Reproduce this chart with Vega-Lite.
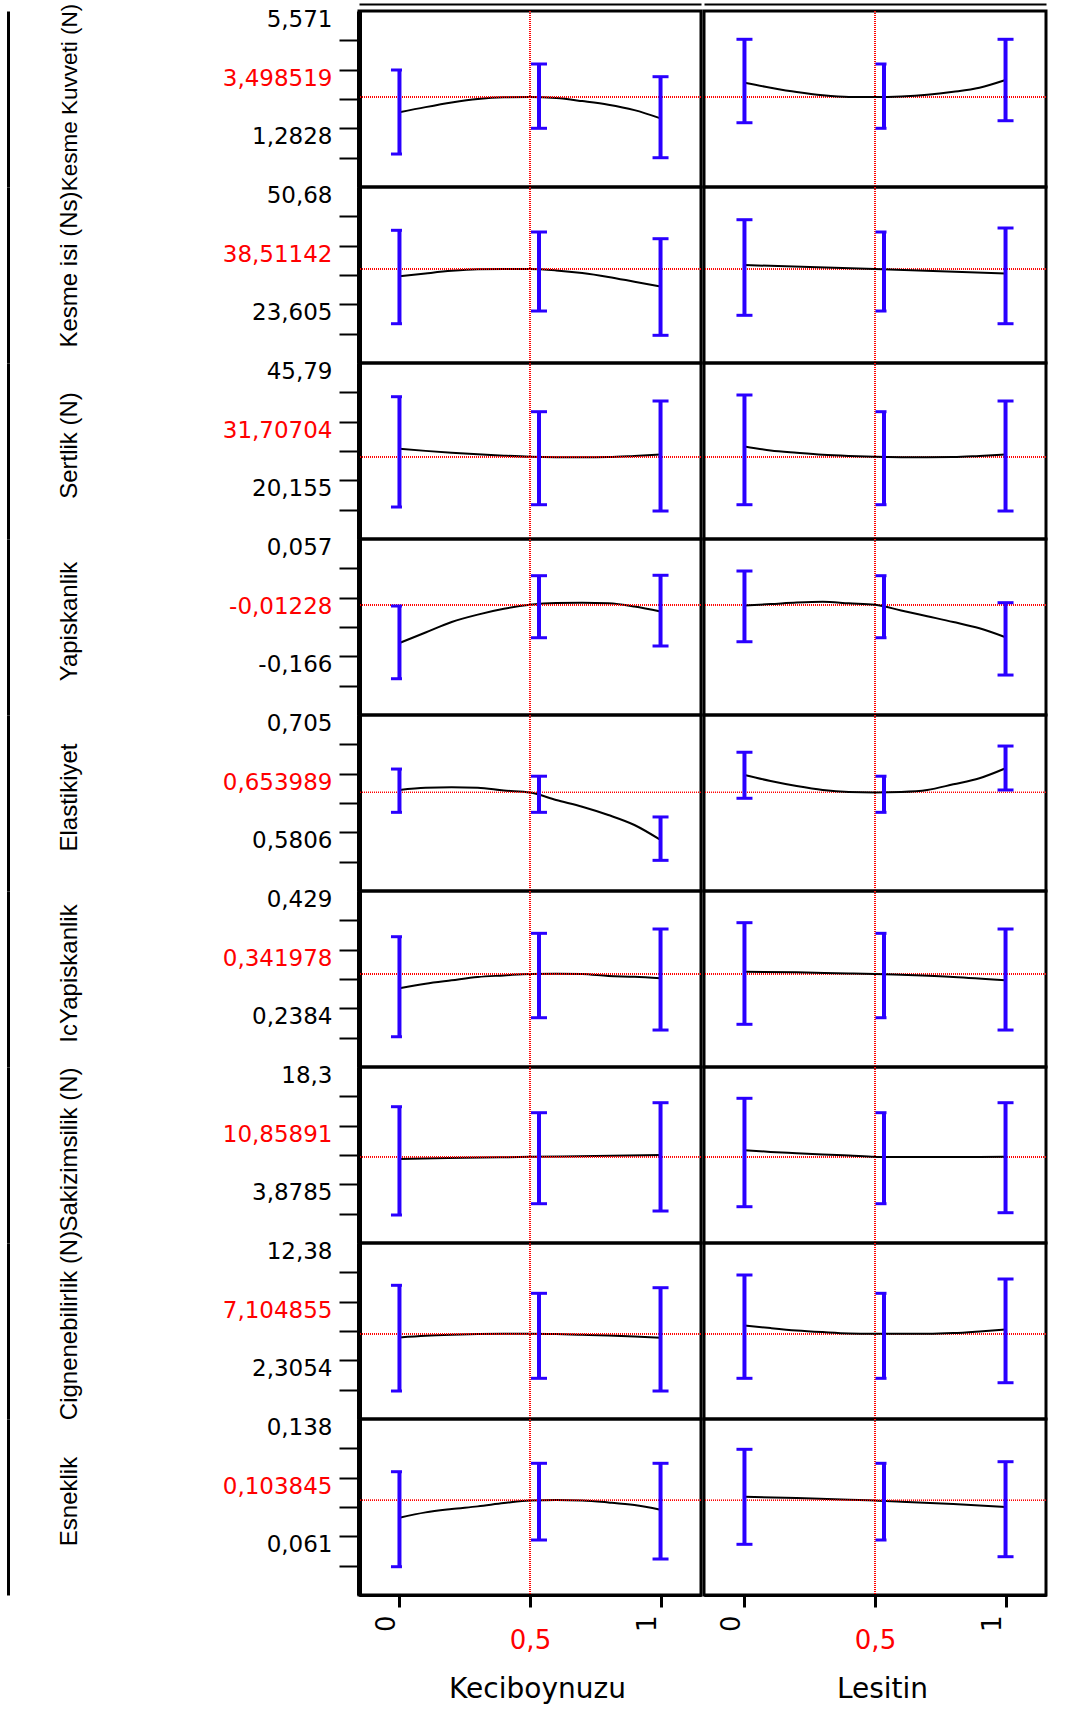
{
"$schema":"https://vega.github.io/schema/vega-lite/v6.json",
"padding":{"left":6,"top":1,"right":0,"bottom":0},
"background":"#ffffff",
"datasets":{"d":[
{"r":"r1","f":"K","k":"c","x":0,"y":2.94},{"r":"r1","f":"K","k":"c","x":0.1,"y":3.13},{"r":"r1","f":"K","k":"c","x":0.2,"y":3.3},{"r":"r1","f":"K","k":"c","x":0.3,"y":3.43},{"r":"r1","f":"K","k":"c","x":0.4,"y":3.49},{"r":"r1","f":"K","k":"c","x":0.5,"y":3.4985},{"r":"r1","f":"K","k":"c","x":0.6,"y":3.46},{"r":"r1","f":"K","k":"c","x":0.7,"y":3.35},{"r":"r1","f":"K","k":"c","x":0.8,"y":3.22},{"r":"r1","f":"K","k":"c","x":0.9,"y":3.02},{"r":"r1","f":"K","k":"c","x":1,"y":2.72},
{"r":"r1","f":"K","k":"b","x":0,"lo":1.416,"hi":4.487},{"r":"r1","f":"K","k":"b","x":0.5,"lo":2.356,"hi":4.706},{"r":"r1","f":"K","k":"b","x":1,"lo":1.281,"hi":4.242},
{"r":"r1","f":"L","k":"c","x":0,"y":4.02},{"r":"r1","f":"L","k":"c","x":0.1,"y":3.84},{"r":"r1","f":"L","k":"c","x":0.2,"y":3.68},{"r":"r1","f":"L","k":"c","x":0.3,"y":3.56},{"r":"r1","f":"L","k":"c","x":0.4,"y":3.5},{"r":"r1","f":"L","k":"c","x":0.5,"y":3.4985},{"r":"r1","f":"L","k":"c","x":0.6,"y":3.52},{"r":"r1","f":"L","k":"c","x":0.7,"y":3.58},{"r":"r1","f":"L","k":"c","x":0.8,"y":3.69},{"r":"r1","f":"L","k":"c","x":0.9,"y":3.84},{"r":"r1","f":"L","k":"c","x":1,"y":4.12},
{"r":"r1","f":"L","k":"b","x":0,"lo":2.56,"hi":5.609},{"r":"r1","f":"L","k":"b","x":0.5,"lo":2.356,"hi":4.706},{"r":"r1","f":"L","k":"b","x":1,"lo":2.633,"hi":5.609},
{"r":"r2","f":"K","k":"c","x":0,"y":36.83},{"r":"r2","f":"K","k":"c","x":0.1,"y":37.5},{"r":"r2","f":"K","k":"c","x":0.2,"y":38.1},{"r":"r2","f":"K","k":"c","x":0.3,"y":38.45},{"r":"r2","f":"K","k":"c","x":0.4,"y":38.51},{"r":"r2","f":"K","k":"c","x":0.5,"y":38.51},{"r":"r2","f":"K","k":"c","x":0.6,"y":38.2},{"r":"r2","f":"K","k":"c","x":0.7,"y":37.6},{"r":"r2","f":"K","k":"c","x":0.8,"y":36.7},{"r":"r2","f":"K","k":"c","x":0.9,"y":35.6},{"r":"r2","f":"K","k":"c","x":1,"y":34.5},
{"r":"r2","f":"K","k":"b","x":0,"lo":25.901,"hi":47.456},{"r":"r2","f":"K","k":"b","x":0.5,"lo":28.832,"hi":47.064},{"r":"r2","f":"K","k":"b","x":1,"lo":23.224,"hi":45.518},
{"r":"r2","f":"L","k":"c","x":0,"y":39.43},{"r":"r2","f":"L","k":"c","x":0.25,"y":39.0},{"r":"r2","f":"L","k":"c","x":0.5,"y":38.51},{"r":"r2","f":"L","k":"c","x":0.75,"y":38.0},{"r":"r2","f":"L","k":"c","x":1,"y":37.5},
{"r":"r2","f":"L","k":"b","x":0,"lo":27.84,"hi":49.902},{"r":"r2","f":"L","k":"b","x":0.5,"lo":28.832,"hi":47.064},{"r":"r2","f":"L","k":"b","x":1,"lo":25.901,"hi":47.987},
{"r":"r3","f":"K","k":"c","x":0,"y":33.45},{"r":"r3","f":"K","k":"c","x":0.1,"y":33.0},{"r":"r3","f":"K","k":"c","x":0.2,"y":32.6},{"r":"r3","f":"K","k":"c","x":0.3,"y":32.25},{"r":"r3","f":"K","k":"c","x":0.4,"y":31.95},{"r":"r3","f":"K","k":"c","x":0.5,"y":31.707},{"r":"r3","f":"K","k":"c","x":0.6,"y":31.6},{"r":"r3","f":"K","k":"c","x":0.7,"y":31.58},{"r":"r3","f":"K","k":"c","x":0.8,"y":31.65},{"r":"r3","f":"K","k":"c","x":0.9,"y":31.9},{"r":"r3","f":"K","k":"c","x":1,"y":32.2},
{"r":"r3","f":"K","k":"b","x":0,"lo":20.735,"hi":44.835},{"r":"r3","f":"K","k":"b","x":0.5,"lo":21.238,"hi":41.558},{"r":"r3","f":"K","k":"b","x":1,"lo":19.861,"hi":43.896},
{"r":"r3","f":"L","k":"c","x":0,"y":33.96},{"r":"r3","f":"L","k":"c","x":0.1,"y":33.09},{"r":"r3","f":"L","k":"c","x":0.2,"y":32.58},{"r":"r3","f":"L","k":"c","x":0.3,"y":32.14},{"r":"r3","f":"L","k":"c","x":0.4,"y":31.88},{"r":"r3","f":"L","k":"c","x":0.5,"y":31.707},{"r":"r3","f":"L","k":"c","x":0.6,"y":31.62},{"r":"r3","f":"L","k":"c","x":0.7,"y":31.6},{"r":"r3","f":"L","k":"c","x":0.8,"y":31.65},{"r":"r3","f":"L","k":"c","x":0.9,"y":31.9},{"r":"r3","f":"L","k":"c","x":1,"y":32.2},
{"r":"r3","f":"L","k":"b","x":0,"lo":21.238,"hi":45.207},{"r":"r3","f":"L","k":"b","x":0.5,"lo":21.238,"hi":41.558},{"r":"r3","f":"L","k":"b","x":1,"lo":19.861,"hi":43.896},
{"r":"r4","f":"K","k":"c","x":0,"y":-0.085},{"r":"r4","f":"K","k":"c","x":0.1,"y":-0.065},{"r":"r4","f":"K","k":"c","x":0.2,"y":-0.045},{"r":"r4","f":"K","k":"c","x":0.3,"y":-0.031},{"r":"r4","f":"K","k":"c","x":0.4,"y":-0.02},{"r":"r4","f":"K","k":"c","x":0.5,"y":-0.01228},{"r":"r4","f":"K","k":"c","x":0.6,"y":-0.009},{"r":"r4","f":"K","k":"c","x":0.7,"y":-0.0085},{"r":"r4","f":"K","k":"c","x":0.8,"y":-0.0095},{"r":"r4","f":"K","k":"c","x":0.9,"y":-0.0155},{"r":"r4","f":"K","k":"c","x":1,"y":-0.025},
{"r":"r4","f":"K","k":"b","x":0,"lo":-0.1528,"hi":-0.0146},{"r":"r4","f":"K","k":"b","x":0.5,"lo":-0.0749,"hi":0.043},{"r":"r4","f":"K","k":"b","x":1,"lo":-0.0906,"hi":0.0438},
{"r":"r4","f":"L","k":"c","x":0,"y":-0.0136},{"r":"r4","f":"L","k":"c","x":0.1,"y":-0.011},{"r":"r4","f":"L","k":"c","x":0.2,"y":-0.008},{"r":"r4","f":"L","k":"c","x":0.3,"y":-0.0065},{"r":"r4","f":"L","k":"c","x":0.4,"y":-0.0095},{"r":"r4","f":"L","k":"c","x":0.5,"y":-0.01228},{"r":"r4","f":"L","k":"c","x":0.6,"y":-0.023},{"r":"r4","f":"L","k":"c","x":0.7,"y":-0.034},{"r":"r4","f":"L","k":"c","x":0.8,"y":-0.045},{"r":"r4","f":"L","k":"c","x":0.9,"y":-0.057},{"r":"r4","f":"L","k":"c","x":1,"y":-0.074},
{"r":"r4","f":"L","k":"b","x":0,"lo":-0.0825,"hi":0.0519},{"r":"r4","f":"L","k":"b","x":0.5,"lo":-0.0749,"hi":0.043},{"r":"r4","f":"L","k":"b","x":1,"lo":-0.1458,"hi":-0.0083},
{"r":"r5","f":"K","k":"c","x":0,"y":0.6566},{"r":"r5","f":"K","k":"c","x":0.1,"y":0.659},{"r":"r5","f":"K","k":"c","x":0.2,"y":0.6594},{"r":"r5","f":"K","k":"c","x":0.3,"y":0.659},{"r":"r5","f":"K","k":"c","x":0.4,"y":0.656},{"r":"r5","f":"K","k":"c","x":0.5,"y":0.653989},{"r":"r5","f":"K","k":"c","x":0.6,"y":0.646},{"r":"r5","f":"K","k":"c","x":0.7,"y":0.6389},{"r":"r5","f":"K","k":"c","x":0.8,"y":0.6301},{"r":"r5","f":"K","k":"c","x":0.9,"y":0.6195},{"r":"r5","f":"K","k":"c","x":1,"y":0.6036},
{"r":"r5","f":"K","k":"b","x":0,"lo":0.6329,"hi":0.6788},{"r":"r5","f":"K","k":"b","x":0.5,"lo":0.6329,"hi":0.6712},{"r":"r5","f":"K","k":"b","x":1,"lo":0.582,"hi":0.628},
{"r":"r5","f":"L","k":"c","x":0,"y":0.6725},{"r":"r5","f":"L","k":"c","x":0.1,"y":0.6661},{"r":"r5","f":"L","k":"c","x":0.2,"y":0.6608},{"r":"r5","f":"L","k":"c","x":0.3,"y":0.6566},{"r":"r5","f":"L","k":"c","x":0.4,"y":0.6545},{"r":"r5","f":"L","k":"c","x":0.5,"y":0.653989},{"r":"r5","f":"L","k":"c","x":0.6,"y":0.6545},{"r":"r5","f":"L","k":"c","x":0.7,"y":0.6566},{"r":"r5","f":"L","k":"c","x":0.8,"y":0.6626},{"r":"r5","f":"L","k":"c","x":0.9,"y":0.669},{"r":"r5","f":"L","k":"c","x":1,"y":0.6796},
{"r":"r5","f":"L","k":"b","x":0,"lo":0.6478,"hi":0.6966},{"r":"r5","f":"L","k":"b","x":0.5,"lo":0.6329,"hi":0.6712},{"r":"r5","f":"L","k":"b","x":1,"lo":0.6566,"hi":0.7032},
{"r":"r6","f":"K","k":"c","x":0,"y":0.3186},{"r":"r6","f":"K","k":"c","x":0.1,"y":0.3261},{"r":"r6","f":"K","k":"c","x":0.2,"y":0.3316},{"r":"r6","f":"K","k":"c","x":0.3,"y":0.3369},{"r":"r6","f":"K","k":"c","x":0.4,"y":0.3395},{"r":"r6","f":"K","k":"c","x":0.5,"y":0.341978},{"r":"r6","f":"K","k":"c","x":0.6,"y":0.3423},{"r":"r6","f":"K","k":"c","x":0.7,"y":0.3418},{"r":"r6","f":"K","k":"c","x":0.8,"y":0.3386},{"r":"r6","f":"K","k":"c","x":0.9,"y":0.3374},{"r":"r6","f":"K","k":"c","x":1,"y":0.3348},
{"r":"r6","f":"K","k":"b","x":0,"lo":0.2399,"hi":0.4024},{"r":"r6","f":"K","k":"b","x":0.5,"lo":0.2708,"hi":0.4079},{"r":"r6","f":"K","k":"b","x":1,"lo":0.2508,"hi":0.4149},
{"r":"r6","f":"L","k":"c","x":0,"y":0.3455},{"r":"r6","f":"L","k":"c","x":0.2,"y":0.3445},{"r":"r6","f":"L","k":"c","x":0.4,"y":0.3428},{"r":"r6","f":"L","k":"c","x":0.5,"y":0.341978},{"r":"r6","f":"L","k":"c","x":0.6,"y":0.3405},{"r":"r6","f":"L","k":"c","x":0.8,"y":0.337},{"r":"r6","f":"L","k":"c","x":1,"y":0.3316},
{"r":"r6","f":"L","k":"b","x":0,"lo":0.2601,"hi":0.4252},{"r":"r6","f":"L","k":"b","x":0.5,"lo":0.2708,"hi":0.4079},{"r":"r6","f":"L","k":"b","x":1,"lo":0.2508,"hi":0.4149},
{"r":"r7","f":"K","k":"c","x":0,"y":10.61},{"r":"r7","f":"K","k":"c","x":0.25,"y":10.74},{"r":"r7","f":"K","k":"c","x":0.5,"y":10.859},{"r":"r7","f":"K","k":"c","x":0.75,"y":10.98},{"r":"r7","f":"K","k":"c","x":1,"y":11.1},
{"r":"r7","f":"K","k":"b","x":0,"lo":3.713,"hi":17.025},{"r":"r7","f":"K","k":"b","x":0.5,"lo":5.102,"hi":16.288},{"r":"r7","f":"K","k":"b","x":1,"lo":4.205,"hi":17.517},
{"r":"r7","f":"L","k":"c","x":0,"y":11.68},{"r":"r7","f":"L","k":"c","x":0.1,"y":11.47},{"r":"r7","f":"L","k":"c","x":0.2,"y":11.31},{"r":"r7","f":"L","k":"c","x":0.3,"y":11.15},{"r":"r7","f":"L","k":"c","x":0.4,"y":11.02},{"r":"r7","f":"L","k":"c","x":0.5,"y":10.859},{"r":"r7","f":"L","k":"c","x":0.6,"y":10.84},{"r":"r7","f":"L","k":"c","x":0.7,"y":10.83},{"r":"r7","f":"L","k":"c","x":0.8,"y":10.83},{"r":"r7","f":"L","k":"c","x":0.9,"y":10.84},{"r":"r7","f":"L","k":"c","x":1,"y":10.86},
{"r":"r7","f":"L","k":"b","x":0,"lo":4.734,"hi":18.058},{"r":"r7","f":"L","k":"b","x":0.5,"lo":5.102,"hi":16.288},{"r":"r7","f":"L","k":"b","x":1,"lo":3.996,"hi":17.517},
{"r":"r8","f":"K","k":"c","x":0,"y":6.79},{"r":"r8","f":"K","k":"c","x":0.1,"y":6.933},{"r":"r8","f":"K","k":"c","x":0.2,"y":7.019},{"r":"r8","f":"K","k":"c","x":0.3,"y":7.076},{"r":"r8","f":"K","k":"c","x":0.4,"y":7.1},{"r":"r8","f":"K","k":"c","x":0.5,"y":7.1049},{"r":"r8","f":"K","k":"c","x":0.6,"y":7.076},{"r":"r8","f":"K","k":"c","x":0.7,"y":7.019},{"r":"r8","f":"K","k":"c","x":0.8,"y":6.962},{"r":"r8","f":"K","k":"c","x":0.9,"y":6.876},{"r":"r8","f":"K","k":"c","x":1,"y":6.761},
{"r":"r8","f":"K","k":"b","x":0,"lo":2.19,"hi":11.266},{"r":"r8","f":"K","k":"b","x":0.5,"lo":3.28,"hi":10.579},{"r":"r8","f":"K","k":"b","x":1,"lo":2.19,"hi":11.06},
{"r":"r8","f":"L","k":"c","x":0,"y":7.821},{"r":"r8","f":"L","k":"c","x":0.1,"y":7.592},{"r":"r8","f":"L","k":"c","x":0.2,"y":7.391},{"r":"r8","f":"L","k":"c","x":0.3,"y":7.248},{"r":"r8","f":"L","k":"c","x":0.4,"y":7.133},{"r":"r8","f":"L","k":"c","x":0.5,"y":7.1049},{"r":"r8","f":"L","k":"c","x":0.6,"y":7.1},{"r":"r8","f":"L","k":"c","x":0.7,"y":7.1},{"r":"r8","f":"L","k":"c","x":0.8,"y":7.162},{"r":"r8","f":"L","k":"c","x":0.9,"y":7.305},{"r":"r8","f":"L","k":"c","x":1,"y":7.477},
{"r":"r8","f":"L","k":"b","x":0,"lo":3.28,"hi":12.151},{"r":"r8","f":"L","k":"b","x":0.5,"lo":3.28,"hi":10.579},{"r":"r8","f":"L","k":"b","x":1,"lo":2.902,"hi":11.807},
{"r":"r9","f":"K","k":"c","x":0,"y":0.09247},{"r":"r9","f":"K","k":"c","x":0.1,"y":0.09597},{"r":"r9","f":"K","k":"c","x":0.2,"y":0.09815},{"r":"r9","f":"K","k":"c","x":0.3,"y":0.09991},{"r":"r9","f":"K","k":"c","x":0.4,"y":0.10209},{"r":"r9","f":"K","k":"c","x":0.5,"y":0.103845},{"r":"r9","f":"K","k":"c","x":0.6,"y":0.1041},{"r":"r9","f":"K","k":"c","x":0.7,"y":0.1038},{"r":"r9","f":"K","k":"c","x":0.8,"y":0.10253},{"r":"r9","f":"K","k":"c","x":0.9,"y":0.10078},{"r":"r9","f":"K","k":"c","x":1,"y":0.09772},
{"r":"r9","f":"K","k":"b","x":0,"lo":0.06031,"hi":0.12266},{"r":"r9","f":"K","k":"b","x":0.5,"lo":0.07784,"hi":0.12818},{"r":"r9","f":"K","k":"b","x":1,"lo":0.06537,"hi":0.12818},
{"r":"r9","f":"L","k":"c","x":0,"y":0.10625},{"r":"r9","f":"L","k":"c","x":0.2,"y":0.10538},{"r":"r9","f":"L","k":"c","x":0.4,"y":0.10428},{"r":"r9","f":"L","k":"c","x":0.5,"y":0.103845},{"r":"r9","f":"L","k":"c","x":0.6,"y":0.10297},{"r":"r9","f":"L","k":"c","x":0.8,"y":0.10144},{"r":"r9","f":"L","k":"c","x":1,"y":0.09947},
{"r":"r9","f":"L","k":"b","x":0,"lo":0.07501,"hi":0.13736},{"r":"r9","f":"L","k":"b","x":0.5,"lo":0.07784,"hi":0.12818},{"r":"r9","f":"L","k":"b","x":1,"lo":0.06688,"hi":0.12923}
]},
"data":{"name":"d"},
"columns":2,
"spacing":{"row":0,"column":3},
"bounds":"flush",
"concat":[
{"width":342,"height":176,"transform":[{"filter":"datum.r === 'r1' && datum.f === 'K'"}],"resolve":{"axis":{"x":"independent","y":"independent"}},"layer":[
{"transform":[{"filter":"datum.k === 'c'"}],"mark":{"type":"line","color":"#000000","strokeWidth":2,"interpolate":"monotone"},"encoding":{"x":{"field":"x","type":"quantitative","scale":{"domain":[-0.155,1.155],"nice":false,"zero":false},"axis":null},"y":{"field":"y","type":"quantitative","scale":{"domain":[0.21075,6.64305],"nice":false,"zero":false},"axis":{"title":"Kesme Kuvveti (N)","titleFontSize":22.5,"titleY":86,"values":[5.571,4.49895,3.4269,2.35485,1.2828],"labelExpr":"datum.value === 5.571 ? '5,571' : datum.value === 3.4269 ? '3,498519' : datum.value === 1.2828 ? '1,2828' : ''","labelColor":{"condition":{"test":"datum.value === 3.4269","value":"#ff0000"},"value":"#000000"}}}}},
{"mark":{"type":"rule","color":"#ff0000","strokeWidth":1,"strokeDash":[1,1],"opacity":0.75},"encoding":{"x":{"datum":0.5,"type":"quantitative","scale":{"domain":[-0.155,1.155],"nice":false,"zero":false},"axis":{"orient":"top","offset":7,"domainWidth":2,"domainColor":"#000000","ticks":false,"labels":false,"title":null,"grid":false}}}},
{"mark":{"type":"rule","color":"#ff0000","strokeWidth":1,"strokeDash":[1,1],"opacity":0.75},"encoding":{"y":{"datum":3.498519,"type":"quantitative","scale":{"domain":[0.21075,6.64305],"nice":false,"zero":false},"axis":{"orient":"left","offset":351,"domainWidth":3,"domainColor":"#000000","ticks":false,"labels":false,"title":null,"grid":false}}}},
{"transform":[{"filter":"datum.k === 'b'"}],"mark":{"type":"rule","color":"#2a00ff","strokeWidth":4,"xOffset":{"expr":"datum.x === 0.5 ? 9 : 0"}},"encoding":{"x":{"field":"x","type":"quantitative","scale":{"domain":[-0.155,1.155],"nice":false,"zero":false},"axis":null},"y":{"field":"lo","type":"quantitative","scale":{"domain":[0.21075,6.64305],"nice":false,"zero":false},"axis":null},"y2":{"field":"hi"}}},
{"transform":[{"filter":"datum.k === 'b'"}],"mark":{"type":"tick","orient":"horizontal","color":"#2a00ff","thickness":3,"opacity":1,"size":{"expr":"datum.x === 0 ? 11 : 16"},"xOffset":{"expr":"datum.x === 0.5 ? 9 : (datum.x === 0 ? -3 : 0)"}},"encoding":{"x":{"field":"x","type":"quantitative","scale":{"domain":[-0.155,1.155],"nice":false,"zero":false},"axis":null},"y":{"field":"lo","type":"quantitative","scale":{"domain":[0.21075,6.64305],"nice":false,"zero":false},"axis":null}}},
{"transform":[{"filter":"datum.k === 'b'"}],"mark":{"type":"tick","orient":"horizontal","color":"#2a00ff","thickness":3,"opacity":1,"size":{"expr":"datum.x === 0 ? 11 : 16"},"xOffset":{"expr":"datum.x === 0.5 ? 9 : (datum.x === 0 ? -3 : 0)"}},"encoding":{"x":{"field":"x","type":"quantitative","scale":{"domain":[-0.155,1.155],"nice":false,"zero":false},"axis":null},"y":{"field":"hi","type":"quantitative","scale":{"domain":[0.21075,6.64305],"nice":false,"zero":false},"axis":null}}}
]},
{"width":342,"height":176,"transform":[{"filter":"datum.r === 'r1' && datum.f === 'L'"}],"resolve":{"axis":{"x":"independent"}},"layer":[
{"mark":{"type":"rule","color":"#ff0000","strokeWidth":1,"strokeDash":[1,1],"opacity":0.75},"encoding":{"x":{"datum":0.5,"type":"quantitative","scale":{"domain":[-0.155,1.155],"nice":false,"zero":false},"axis":{"orient":"top","offset":7,"domainWidth":2,"domainColor":"#000000","ticks":false,"labels":false,"title":null,"grid":false}}}},
{"mark":{"type":"rule","color":"#ff0000","strokeWidth":1,"strokeDash":[1,1],"opacity":0.75},"encoding":{"y":{"datum":3.498519,"type":"quantitative","scale":{"domain":[0.21075,6.64305],"nice":false,"zero":false},"axis":null}}},
{"transform":[{"filter":"datum.k === 'c'"}],"mark":{"type":"line","color":"#000000","strokeWidth":2,"interpolate":"monotone"},"encoding":{"x":{"field":"x","type":"quantitative","scale":{"domain":[-0.155,1.155],"nice":false,"zero":false},"axis":null},"y":{"field":"y","type":"quantitative","scale":{"domain":[0.21075,6.64305],"nice":false,"zero":false},"axis":null}}},
{"transform":[{"filter":"datum.k === 'b'"}],"mark":{"type":"rule","color":"#2a00ff","strokeWidth":4,"xOffset":{"expr":"datum.x === 0.5 ? 9 : 0"}},"encoding":{"x":{"field":"x","type":"quantitative","scale":{"domain":[-0.155,1.155],"nice":false,"zero":false},"axis":null},"y":{"field":"lo","type":"quantitative","scale":{"domain":[0.21075,6.64305],"nice":false,"zero":false},"axis":null},"y2":{"field":"hi"}}},
{"transform":[{"filter":"datum.k === 'b'"}],"mark":{"type":"tick","orient":"horizontal","color":"#2a00ff","thickness":3,"opacity":1,"size":{"expr":"datum.x === 0.5 ? 11 : 16"},"xOffset":{"expr":"datum.x === 0.5 ? 6 : 0"}},"encoding":{"x":{"field":"x","type":"quantitative","scale":{"domain":[-0.155,1.155],"nice":false,"zero":false},"axis":null},"y":{"field":"lo","type":"quantitative","scale":{"domain":[0.21075,6.64305],"nice":false,"zero":false},"axis":null}}},
{"transform":[{"filter":"datum.k === 'b'"}],"mark":{"type":"tick","orient":"horizontal","color":"#2a00ff","thickness":3,"opacity":1,"size":{"expr":"datum.x === 0.5 ? 11 : 16"},"xOffset":{"expr":"datum.x === 0.5 ? 6 : 0"}},"encoding":{"x":{"field":"x","type":"quantitative","scale":{"domain":[-0.155,1.155],"nice":false,"zero":false},"axis":null},"y":{"field":"hi","type":"quantitative","scale":{"domain":[0.21075,6.64305],"nice":false,"zero":false},"axis":null}}}
]},
{"width":342,"height":176,"transform":[{"filter":"datum.r === 'r2' && datum.f === 'K'"}],"resolve":{"axis":{"y":"independent"}},"layer":[
{"transform":[{"filter":"datum.k === 'c'"}],"mark":{"type":"line","color":"#000000","strokeWidth":2,"interpolate":"monotone"},"encoding":{"x":{"field":"x","type":"quantitative","scale":{"domain":[-0.155,1.155],"nice":false,"zero":false},"axis":null},"y":{"field":"y","type":"quantitative","scale":{"domain":[16.83625,57.44875],"nice":false,"zero":false},"axis":{"title":"Kesme isi (Ns)","values":[50.68,43.91125,37.1425,30.37375,23.605],"labelExpr":"datum.value === 50.68 ? '50,68' : datum.value === 37.1425 ? '38,51142' : datum.value === 23.605 ? '23,605' : ''","labelColor":{"condition":{"test":"datum.value === 37.1425","value":"#ff0000"},"value":"#000000"}}}}},
{"mark":{"type":"rule","color":"#ff0000","strokeWidth":1,"strokeDash":[1,1],"opacity":0.75},"encoding":{"x":{"datum":0.5,"type":"quantitative","scale":{"domain":[-0.155,1.155],"nice":false,"zero":false},"axis":null}}},
{"mark":{"type":"rule","color":"#ff0000","strokeWidth":1,"strokeDash":[1,1],"opacity":0.75},"encoding":{"y":{"datum":38.51142,"type":"quantitative","scale":{"domain":[16.83625,57.44875],"nice":false,"zero":false},"axis":{"orient":"left","offset":351,"domainWidth":3,"domainColor":"#000000","ticks":false,"labels":false,"title":null,"grid":false}}}},
{"transform":[{"filter":"datum.k === 'b'"}],"mark":{"type":"rule","color":"#2a00ff","strokeWidth":4,"xOffset":{"expr":"datum.x === 0.5 ? 9 : 0"}},"encoding":{"x":{"field":"x","type":"quantitative","scale":{"domain":[-0.155,1.155],"nice":false,"zero":false},"axis":null},"y":{"field":"lo","type":"quantitative","scale":{"domain":[16.83625,57.44875],"nice":false,"zero":false},"axis":null},"y2":{"field":"hi"}}},
{"transform":[{"filter":"datum.k === 'b'"}],"mark":{"type":"tick","orient":"horizontal","color":"#2a00ff","thickness":3,"opacity":1,"size":{"expr":"datum.x === 0 ? 11 : 16"},"xOffset":{"expr":"datum.x === 0.5 ? 9 : (datum.x === 0 ? -3 : 0)"}},"encoding":{"x":{"field":"x","type":"quantitative","scale":{"domain":[-0.155,1.155],"nice":false,"zero":false},"axis":null},"y":{"field":"lo","type":"quantitative","scale":{"domain":[16.83625,57.44875],"nice":false,"zero":false},"axis":null}}},
{"transform":[{"filter":"datum.k === 'b'"}],"mark":{"type":"tick","orient":"horizontal","color":"#2a00ff","thickness":3,"opacity":1,"size":{"expr":"datum.x === 0 ? 11 : 16"},"xOffset":{"expr":"datum.x === 0.5 ? 9 : (datum.x === 0 ? -3 : 0)"}},"encoding":{"x":{"field":"x","type":"quantitative","scale":{"domain":[-0.155,1.155],"nice":false,"zero":false},"axis":null},"y":{"field":"hi","type":"quantitative","scale":{"domain":[16.83625,57.44875],"nice":false,"zero":false},"axis":null}}}
]},
{"width":342,"height":176,"transform":[{"filter":"datum.r === 'r2' && datum.f === 'L'"}],"layer":[
{"mark":{"type":"rule","color":"#ff0000","strokeWidth":1,"strokeDash":[1,1],"opacity":0.75},"encoding":{"x":{"datum":0.5,"type":"quantitative","scale":{"domain":[-0.155,1.155],"nice":false,"zero":false},"axis":null}}},
{"mark":{"type":"rule","color":"#ff0000","strokeWidth":1,"strokeDash":[1,1],"opacity":0.75},"encoding":{"y":{"datum":38.51142,"type":"quantitative","scale":{"domain":[16.83625,57.44875],"nice":false,"zero":false},"axis":null}}},
{"transform":[{"filter":"datum.k === 'c'"}],"mark":{"type":"line","color":"#000000","strokeWidth":2,"interpolate":"monotone"},"encoding":{"x":{"field":"x","type":"quantitative","scale":{"domain":[-0.155,1.155],"nice":false,"zero":false},"axis":null},"y":{"field":"y","type":"quantitative","scale":{"domain":[16.83625,57.44875],"nice":false,"zero":false},"axis":null}}},
{"transform":[{"filter":"datum.k === 'b'"}],"mark":{"type":"rule","color":"#2a00ff","strokeWidth":4,"xOffset":{"expr":"datum.x === 0.5 ? 9 : 0"}},"encoding":{"x":{"field":"x","type":"quantitative","scale":{"domain":[-0.155,1.155],"nice":false,"zero":false},"axis":null},"y":{"field":"lo","type":"quantitative","scale":{"domain":[16.83625,57.44875],"nice":false,"zero":false},"axis":null},"y2":{"field":"hi"}}},
{"transform":[{"filter":"datum.k === 'b'"}],"mark":{"type":"tick","orient":"horizontal","color":"#2a00ff","thickness":3,"opacity":1,"size":{"expr":"datum.x === 0.5 ? 11 : 16"},"xOffset":{"expr":"datum.x === 0.5 ? 6 : 0"}},"encoding":{"x":{"field":"x","type":"quantitative","scale":{"domain":[-0.155,1.155],"nice":false,"zero":false},"axis":null},"y":{"field":"lo","type":"quantitative","scale":{"domain":[16.83625,57.44875],"nice":false,"zero":false},"axis":null}}},
{"transform":[{"filter":"datum.k === 'b'"}],"mark":{"type":"tick","orient":"horizontal","color":"#2a00ff","thickness":3,"opacity":1,"size":{"expr":"datum.x === 0.5 ? 11 : 16"},"xOffset":{"expr":"datum.x === 0.5 ? 6 : 0"}},"encoding":{"x":{"field":"x","type":"quantitative","scale":{"domain":[-0.155,1.155],"nice":false,"zero":false},"axis":null},"y":{"field":"hi","type":"quantitative","scale":{"domain":[16.83625,57.44875],"nice":false,"zero":false},"axis":null}}}
]},
{"width":342,"height":176,"transform":[{"filter":"datum.r === 'r3' && datum.f === 'K'"}],"resolve":{"axis":{"y":"independent"}},"layer":[
{"transform":[{"filter":"datum.k === 'c'"}],"mark":{"type":"line","color":"#000000","strokeWidth":2,"interpolate":"monotone"},"encoding":{"x":{"field":"x","type":"quantitative","scale":{"domain":[-0.155,1.155],"nice":false,"zero":false},"axis":null},"y":{"field":"y","type":"quantitative","scale":{"domain":[13.74625,52.19875],"nice":false,"zero":false},"axis":{"title":"Sertlik (N)","values":[45.79,39.38125,32.9725,26.56375,20.155],"labelExpr":"datum.value === 45.79 ? '45,79' : datum.value === 32.9725 ? '31,70704' : datum.value === 20.155 ? '20,155' : ''","labelColor":{"condition":{"test":"datum.value === 32.9725","value":"#ff0000"},"value":"#000000"}}}}},
{"mark":{"type":"rule","color":"#ff0000","strokeWidth":1,"strokeDash":[1,1],"opacity":0.75},"encoding":{"x":{"datum":0.5,"type":"quantitative","scale":{"domain":[-0.155,1.155],"nice":false,"zero":false},"axis":null}}},
{"mark":{"type":"rule","color":"#ff0000","strokeWidth":1,"strokeDash":[1,1],"opacity":0.75},"encoding":{"y":{"datum":31.70704,"type":"quantitative","scale":{"domain":[13.74625,52.19875],"nice":false,"zero":false},"axis":{"orient":"left","offset":351,"domainWidth":3,"domainColor":"#000000","ticks":false,"labels":false,"title":null,"grid":false}}}},
{"transform":[{"filter":"datum.k === 'b'"}],"mark":{"type":"rule","color":"#2a00ff","strokeWidth":4,"xOffset":{"expr":"datum.x === 0.5 ? 9 : 0"}},"encoding":{"x":{"field":"x","type":"quantitative","scale":{"domain":[-0.155,1.155],"nice":false,"zero":false},"axis":null},"y":{"field":"lo","type":"quantitative","scale":{"domain":[13.74625,52.19875],"nice":false,"zero":false},"axis":null},"y2":{"field":"hi"}}},
{"transform":[{"filter":"datum.k === 'b'"}],"mark":{"type":"tick","orient":"horizontal","color":"#2a00ff","thickness":3,"opacity":1,"size":{"expr":"datum.x === 0 ? 11 : 16"},"xOffset":{"expr":"datum.x === 0.5 ? 9 : (datum.x === 0 ? -3 : 0)"}},"encoding":{"x":{"field":"x","type":"quantitative","scale":{"domain":[-0.155,1.155],"nice":false,"zero":false},"axis":null},"y":{"field":"lo","type":"quantitative","scale":{"domain":[13.74625,52.19875],"nice":false,"zero":false},"axis":null}}},
{"transform":[{"filter":"datum.k === 'b'"}],"mark":{"type":"tick","orient":"horizontal","color":"#2a00ff","thickness":3,"opacity":1,"size":{"expr":"datum.x === 0 ? 11 : 16"},"xOffset":{"expr":"datum.x === 0.5 ? 9 : (datum.x === 0 ? -3 : 0)"}},"encoding":{"x":{"field":"x","type":"quantitative","scale":{"domain":[-0.155,1.155],"nice":false,"zero":false},"axis":null},"y":{"field":"hi","type":"quantitative","scale":{"domain":[13.74625,52.19875],"nice":false,"zero":false},"axis":null}}}
]},
{"width":342,"height":176,"transform":[{"filter":"datum.r === 'r3' && datum.f === 'L'"}],"layer":[
{"mark":{"type":"rule","color":"#ff0000","strokeWidth":1,"strokeDash":[1,1],"opacity":0.75},"encoding":{"x":{"datum":0.5,"type":"quantitative","scale":{"domain":[-0.155,1.155],"nice":false,"zero":false},"axis":null}}},
{"mark":{"type":"rule","color":"#ff0000","strokeWidth":1,"strokeDash":[1,1],"opacity":0.75},"encoding":{"y":{"datum":31.70704,"type":"quantitative","scale":{"domain":[13.74625,52.19875],"nice":false,"zero":false},"axis":null}}},
{"transform":[{"filter":"datum.k === 'c'"}],"mark":{"type":"line","color":"#000000","strokeWidth":2,"interpolate":"monotone"},"encoding":{"x":{"field":"x","type":"quantitative","scale":{"domain":[-0.155,1.155],"nice":false,"zero":false},"axis":null},"y":{"field":"y","type":"quantitative","scale":{"domain":[13.74625,52.19875],"nice":false,"zero":false},"axis":null}}},
{"transform":[{"filter":"datum.k === 'b'"}],"mark":{"type":"rule","color":"#2a00ff","strokeWidth":4,"xOffset":{"expr":"datum.x === 0.5 ? 9 : 0"}},"encoding":{"x":{"field":"x","type":"quantitative","scale":{"domain":[-0.155,1.155],"nice":false,"zero":false},"axis":null},"y":{"field":"lo","type":"quantitative","scale":{"domain":[13.74625,52.19875],"nice":false,"zero":false},"axis":null},"y2":{"field":"hi"}}},
{"transform":[{"filter":"datum.k === 'b'"}],"mark":{"type":"tick","orient":"horizontal","color":"#2a00ff","thickness":3,"opacity":1,"size":{"expr":"datum.x === 0.5 ? 11 : 16"},"xOffset":{"expr":"datum.x === 0.5 ? 6 : 0"}},"encoding":{"x":{"field":"x","type":"quantitative","scale":{"domain":[-0.155,1.155],"nice":false,"zero":false},"axis":null},"y":{"field":"lo","type":"quantitative","scale":{"domain":[13.74625,52.19875],"nice":false,"zero":false},"axis":null}}},
{"transform":[{"filter":"datum.k === 'b'"}],"mark":{"type":"tick","orient":"horizontal","color":"#2a00ff","thickness":3,"opacity":1,"size":{"expr":"datum.x === 0.5 ? 11 : 16"},"xOffset":{"expr":"datum.x === 0.5 ? 6 : 0"}},"encoding":{"x":{"field":"x","type":"quantitative","scale":{"domain":[-0.155,1.155],"nice":false,"zero":false},"axis":null},"y":{"field":"hi","type":"quantitative","scale":{"domain":[13.74625,52.19875],"nice":false,"zero":false},"axis":null}}}
]},
{"width":342,"height":176,"transform":[{"filter":"datum.r === 'r4' && datum.f === 'K'"}],"resolve":{"axis":{"y":"independent"}},"layer":[
{"transform":[{"filter":"datum.k === 'c'"}],"mark":{"type":"line","color":"#000000","strokeWidth":2,"interpolate":"monotone"},"encoding":{"x":{"field":"x","type":"quantitative","scale":{"domain":[-0.155,1.155],"nice":false,"zero":false},"axis":null},"y":{"field":"y","type":"quantitative","scale":{"domain":[-0.22175,0.11275],"nice":false,"zero":false},"axis":{"title":"Yapiskanlik","values":[0.057,0.00125,-0.0545,-0.11025,-0.166],"labelExpr":"datum.value === 0.057 ? '0,057' : datum.value === -0.0545 ? '-0,01228' : datum.value === -0.166 ? '-0,166' : ''","labelColor":{"condition":{"test":"datum.value === -0.0545","value":"#ff0000"},"value":"#000000"}}}}},
{"mark":{"type":"rule","color":"#ff0000","strokeWidth":1,"strokeDash":[1,1],"opacity":0.75},"encoding":{"x":{"datum":0.5,"type":"quantitative","scale":{"domain":[-0.155,1.155],"nice":false,"zero":false},"axis":null}}},
{"mark":{"type":"rule","color":"#ff0000","strokeWidth":1,"strokeDash":[1,1],"opacity":0.75},"encoding":{"y":{"datum":-0.01228,"type":"quantitative","scale":{"domain":[-0.22175,0.11275],"nice":false,"zero":false},"axis":{"orient":"left","offset":351,"domainWidth":3,"domainColor":"#000000","ticks":false,"labels":false,"title":null,"grid":false}}}},
{"transform":[{"filter":"datum.k === 'b'"}],"mark":{"type":"rule","color":"#2a00ff","strokeWidth":4,"xOffset":{"expr":"datum.x === 0.5 ? 9 : 0"}},"encoding":{"x":{"field":"x","type":"quantitative","scale":{"domain":[-0.155,1.155],"nice":false,"zero":false},"axis":null},"y":{"field":"lo","type":"quantitative","scale":{"domain":[-0.22175,0.11275],"nice":false,"zero":false},"axis":null},"y2":{"field":"hi"}}},
{"transform":[{"filter":"datum.k === 'b'"}],"mark":{"type":"tick","orient":"horizontal","color":"#2a00ff","thickness":3,"opacity":1,"size":{"expr":"datum.x === 0 ? 11 : 16"},"xOffset":{"expr":"datum.x === 0.5 ? 9 : (datum.x === 0 ? -3 : 0)"}},"encoding":{"x":{"field":"x","type":"quantitative","scale":{"domain":[-0.155,1.155],"nice":false,"zero":false},"axis":null},"y":{"field":"lo","type":"quantitative","scale":{"domain":[-0.22175,0.11275],"nice":false,"zero":false},"axis":null}}},
{"transform":[{"filter":"datum.k === 'b'"}],"mark":{"type":"tick","orient":"horizontal","color":"#2a00ff","thickness":3,"opacity":1,"size":{"expr":"datum.x === 0 ? 11 : 16"},"xOffset":{"expr":"datum.x === 0.5 ? 9 : (datum.x === 0 ? -3 : 0)"}},"encoding":{"x":{"field":"x","type":"quantitative","scale":{"domain":[-0.155,1.155],"nice":false,"zero":false},"axis":null},"y":{"field":"hi","type":"quantitative","scale":{"domain":[-0.22175,0.11275],"nice":false,"zero":false},"axis":null}}}
]},
{"width":342,"height":176,"transform":[{"filter":"datum.r === 'r4' && datum.f === 'L'"}],"layer":[
{"mark":{"type":"rule","color":"#ff0000","strokeWidth":1,"strokeDash":[1,1],"opacity":0.75},"encoding":{"x":{"datum":0.5,"type":"quantitative","scale":{"domain":[-0.155,1.155],"nice":false,"zero":false},"axis":null}}},
{"mark":{"type":"rule","color":"#ff0000","strokeWidth":1,"strokeDash":[1,1],"opacity":0.75},"encoding":{"y":{"datum":-0.01228,"type":"quantitative","scale":{"domain":[-0.22175,0.11275],"nice":false,"zero":false},"axis":null}}},
{"transform":[{"filter":"datum.k === 'c'"}],"mark":{"type":"line","color":"#000000","strokeWidth":2,"interpolate":"monotone"},"encoding":{"x":{"field":"x","type":"quantitative","scale":{"domain":[-0.155,1.155],"nice":false,"zero":false},"axis":null},"y":{"field":"y","type":"quantitative","scale":{"domain":[-0.22175,0.11275],"nice":false,"zero":false},"axis":null}}},
{"transform":[{"filter":"datum.k === 'b'"}],"mark":{"type":"rule","color":"#2a00ff","strokeWidth":4,"xOffset":{"expr":"datum.x === 0.5 ? 9 : 0"}},"encoding":{"x":{"field":"x","type":"quantitative","scale":{"domain":[-0.155,1.155],"nice":false,"zero":false},"axis":null},"y":{"field":"lo","type":"quantitative","scale":{"domain":[-0.22175,0.11275],"nice":false,"zero":false},"axis":null},"y2":{"field":"hi"}}},
{"transform":[{"filter":"datum.k === 'b'"}],"mark":{"type":"tick","orient":"horizontal","color":"#2a00ff","thickness":3,"opacity":1,"size":{"expr":"datum.x === 0.5 ? 11 : 16"},"xOffset":{"expr":"datum.x === 0.5 ? 6 : 0"}},"encoding":{"x":{"field":"x","type":"quantitative","scale":{"domain":[-0.155,1.155],"nice":false,"zero":false},"axis":null},"y":{"field":"lo","type":"quantitative","scale":{"domain":[-0.22175,0.11275],"nice":false,"zero":false},"axis":null}}},
{"transform":[{"filter":"datum.k === 'b'"}],"mark":{"type":"tick","orient":"horizontal","color":"#2a00ff","thickness":3,"opacity":1,"size":{"expr":"datum.x === 0.5 ? 11 : 16"},"xOffset":{"expr":"datum.x === 0.5 ? 6 : 0"}},"encoding":{"x":{"field":"x","type":"quantitative","scale":{"domain":[-0.155,1.155],"nice":false,"zero":false},"axis":null},"y":{"field":"hi","type":"quantitative","scale":{"domain":[-0.22175,0.11275],"nice":false,"zero":false},"axis":null}}}
]},
{"width":342,"height":176,"transform":[{"filter":"datum.r === 'r5' && datum.f === 'K'"}],"resolve":{"axis":{"y":"independent"}},"layer":[
{"transform":[{"filter":"datum.k === 'c'"}],"mark":{"type":"line","color":"#000000","strokeWidth":2,"interpolate":"monotone"},"encoding":{"x":{"field":"x","type":"quantitative","scale":{"domain":[-0.155,1.155],"nice":false,"zero":false},"axis":null},"y":{"field":"y","type":"quantitative","scale":{"domain":[0.5495,0.7361],"nice":false,"zero":false},"axis":{"title":"Elastikiyet","values":[0.705,0.6739,0.6428,0.6117,0.5806],"labelExpr":"datum.value === 0.705 ? '0,705' : datum.value === 0.6428 ? '0,653989' : datum.value === 0.5806 ? '0,5806' : ''","labelColor":{"condition":{"test":"datum.value === 0.6428","value":"#ff0000"},"value":"#000000"}}}}},
{"mark":{"type":"rule","color":"#ff0000","strokeWidth":1,"strokeDash":[1,1],"opacity":0.75},"encoding":{"x":{"datum":0.5,"type":"quantitative","scale":{"domain":[-0.155,1.155],"nice":false,"zero":false},"axis":null}}},
{"mark":{"type":"rule","color":"#ff0000","strokeWidth":1,"strokeDash":[1,1],"opacity":0.75},"encoding":{"y":{"datum":0.653989,"type":"quantitative","scale":{"domain":[0.5495,0.7361],"nice":false,"zero":false},"axis":{"orient":"left","offset":351,"domainWidth":3,"domainColor":"#000000","ticks":false,"labels":false,"title":null,"grid":false}}}},
{"transform":[{"filter":"datum.k === 'b'"}],"mark":{"type":"rule","color":"#2a00ff","strokeWidth":4,"xOffset":{"expr":"datum.x === 0.5 ? 9 : 0"}},"encoding":{"x":{"field":"x","type":"quantitative","scale":{"domain":[-0.155,1.155],"nice":false,"zero":false},"axis":null},"y":{"field":"lo","type":"quantitative","scale":{"domain":[0.5495,0.7361],"nice":false,"zero":false},"axis":null},"y2":{"field":"hi"}}},
{"transform":[{"filter":"datum.k === 'b'"}],"mark":{"type":"tick","orient":"horizontal","color":"#2a00ff","thickness":3,"opacity":1,"size":{"expr":"datum.x === 0 ? 11 : 16"},"xOffset":{"expr":"datum.x === 0.5 ? 9 : (datum.x === 0 ? -3 : 0)"}},"encoding":{"x":{"field":"x","type":"quantitative","scale":{"domain":[-0.155,1.155],"nice":false,"zero":false},"axis":null},"y":{"field":"lo","type":"quantitative","scale":{"domain":[0.5495,0.7361],"nice":false,"zero":false},"axis":null}}},
{"transform":[{"filter":"datum.k === 'b'"}],"mark":{"type":"tick","orient":"horizontal","color":"#2a00ff","thickness":3,"opacity":1,"size":{"expr":"datum.x === 0 ? 11 : 16"},"xOffset":{"expr":"datum.x === 0.5 ? 9 : (datum.x === 0 ? -3 : 0)"}},"encoding":{"x":{"field":"x","type":"quantitative","scale":{"domain":[-0.155,1.155],"nice":false,"zero":false},"axis":null},"y":{"field":"hi","type":"quantitative","scale":{"domain":[0.5495,0.7361],"nice":false,"zero":false},"axis":null}}}
]},
{"width":342,"height":176,"transform":[{"filter":"datum.r === 'r5' && datum.f === 'L'"}],"layer":[
{"mark":{"type":"rule","color":"#ff0000","strokeWidth":1,"strokeDash":[1,1],"opacity":0.75},"encoding":{"x":{"datum":0.5,"type":"quantitative","scale":{"domain":[-0.155,1.155],"nice":false,"zero":false},"axis":null}}},
{"mark":{"type":"rule","color":"#ff0000","strokeWidth":1,"strokeDash":[1,1],"opacity":0.75},"encoding":{"y":{"datum":0.653989,"type":"quantitative","scale":{"domain":[0.5495,0.7361],"nice":false,"zero":false},"axis":null}}},
{"transform":[{"filter":"datum.k === 'c'"}],"mark":{"type":"line","color":"#000000","strokeWidth":2,"interpolate":"monotone"},"encoding":{"x":{"field":"x","type":"quantitative","scale":{"domain":[-0.155,1.155],"nice":false,"zero":false},"axis":null},"y":{"field":"y","type":"quantitative","scale":{"domain":[0.5495,0.7361],"nice":false,"zero":false},"axis":null}}},
{"transform":[{"filter":"datum.k === 'b'"}],"mark":{"type":"rule","color":"#2a00ff","strokeWidth":4,"xOffset":{"expr":"datum.x === 0.5 ? 9 : 0"}},"encoding":{"x":{"field":"x","type":"quantitative","scale":{"domain":[-0.155,1.155],"nice":false,"zero":false},"axis":null},"y":{"field":"lo","type":"quantitative","scale":{"domain":[0.5495,0.7361],"nice":false,"zero":false},"axis":null},"y2":{"field":"hi"}}},
{"transform":[{"filter":"datum.k === 'b'"}],"mark":{"type":"tick","orient":"horizontal","color":"#2a00ff","thickness":3,"opacity":1,"size":{"expr":"datum.x === 0.5 ? 11 : 16"},"xOffset":{"expr":"datum.x === 0.5 ? 6 : 0"}},"encoding":{"x":{"field":"x","type":"quantitative","scale":{"domain":[-0.155,1.155],"nice":false,"zero":false},"axis":null},"y":{"field":"lo","type":"quantitative","scale":{"domain":[0.5495,0.7361],"nice":false,"zero":false},"axis":null}}},
{"transform":[{"filter":"datum.k === 'b'"}],"mark":{"type":"tick","orient":"horizontal","color":"#2a00ff","thickness":3,"opacity":1,"size":{"expr":"datum.x === 0.5 ? 11 : 16"},"xOffset":{"expr":"datum.x === 0.5 ? 6 : 0"}},"encoding":{"x":{"field":"x","type":"quantitative","scale":{"domain":[-0.155,1.155],"nice":false,"zero":false},"axis":null},"y":{"field":"hi","type":"quantitative","scale":{"domain":[0.5495,0.7361],"nice":false,"zero":false},"axis":null}}}
]},
{"width":342,"height":176,"transform":[{"filter":"datum.r === 'r6' && datum.f === 'K'"}],"resolve":{"axis":{"y":"independent"}},"layer":[
{"transform":[{"filter":"datum.k === 'c'"}],"mark":{"type":"line","color":"#000000","strokeWidth":2,"interpolate":"monotone"},"encoding":{"x":{"field":"x","type":"quantitative","scale":{"domain":[-0.155,1.155],"nice":false,"zero":false},"axis":null},"y":{"field":"y","type":"quantitative","scale":{"domain":[0.19075,0.47665],"nice":false,"zero":false},"axis":{"title":"IcYapiskanlik","values":[0.429,0.38135,0.3337,0.28605,0.2384],"labelExpr":"datum.value === 0.429 ? '0,429' : datum.value === 0.3337 ? '0,341978' : datum.value === 0.2384 ? '0,2384' : ''","labelColor":{"condition":{"test":"datum.value === 0.3337","value":"#ff0000"},"value":"#000000"}}}}},
{"mark":{"type":"rule","color":"#ff0000","strokeWidth":1,"strokeDash":[1,1],"opacity":0.75},"encoding":{"x":{"datum":0.5,"type":"quantitative","scale":{"domain":[-0.155,1.155],"nice":false,"zero":false},"axis":null}}},
{"mark":{"type":"rule","color":"#ff0000","strokeWidth":1,"strokeDash":[1,1],"opacity":0.75},"encoding":{"y":{"datum":0.341978,"type":"quantitative","scale":{"domain":[0.19075,0.47665],"nice":false,"zero":false},"axis":{"orient":"left","offset":351,"domainWidth":3,"domainColor":"#000000","ticks":false,"labels":false,"title":null,"grid":false}}}},
{"transform":[{"filter":"datum.k === 'b'"}],"mark":{"type":"rule","color":"#2a00ff","strokeWidth":4,"xOffset":{"expr":"datum.x === 0.5 ? 9 : 0"}},"encoding":{"x":{"field":"x","type":"quantitative","scale":{"domain":[-0.155,1.155],"nice":false,"zero":false},"axis":null},"y":{"field":"lo","type":"quantitative","scale":{"domain":[0.19075,0.47665],"nice":false,"zero":false},"axis":null},"y2":{"field":"hi"}}},
{"transform":[{"filter":"datum.k === 'b'"}],"mark":{"type":"tick","orient":"horizontal","color":"#2a00ff","thickness":3,"opacity":1,"size":{"expr":"datum.x === 0 ? 11 : 16"},"xOffset":{"expr":"datum.x === 0.5 ? 9 : (datum.x === 0 ? -3 : 0)"}},"encoding":{"x":{"field":"x","type":"quantitative","scale":{"domain":[-0.155,1.155],"nice":false,"zero":false},"axis":null},"y":{"field":"lo","type":"quantitative","scale":{"domain":[0.19075,0.47665],"nice":false,"zero":false},"axis":null}}},
{"transform":[{"filter":"datum.k === 'b'"}],"mark":{"type":"tick","orient":"horizontal","color":"#2a00ff","thickness":3,"opacity":1,"size":{"expr":"datum.x === 0 ? 11 : 16"},"xOffset":{"expr":"datum.x === 0.5 ? 9 : (datum.x === 0 ? -3 : 0)"}},"encoding":{"x":{"field":"x","type":"quantitative","scale":{"domain":[-0.155,1.155],"nice":false,"zero":false},"axis":null},"y":{"field":"hi","type":"quantitative","scale":{"domain":[0.19075,0.47665],"nice":false,"zero":false},"axis":null}}}
]},
{"width":342,"height":176,"transform":[{"filter":"datum.r === 'r6' && datum.f === 'L'"}],"layer":[
{"mark":{"type":"rule","color":"#ff0000","strokeWidth":1,"strokeDash":[1,1],"opacity":0.75},"encoding":{"x":{"datum":0.5,"type":"quantitative","scale":{"domain":[-0.155,1.155],"nice":false,"zero":false},"axis":null}}},
{"mark":{"type":"rule","color":"#ff0000","strokeWidth":1,"strokeDash":[1,1],"opacity":0.75},"encoding":{"y":{"datum":0.341978,"type":"quantitative","scale":{"domain":[0.19075,0.47665],"nice":false,"zero":false},"axis":null}}},
{"transform":[{"filter":"datum.k === 'c'"}],"mark":{"type":"line","color":"#000000","strokeWidth":2,"interpolate":"monotone"},"encoding":{"x":{"field":"x","type":"quantitative","scale":{"domain":[-0.155,1.155],"nice":false,"zero":false},"axis":null},"y":{"field":"y","type":"quantitative","scale":{"domain":[0.19075,0.47665],"nice":false,"zero":false},"axis":null}}},
{"transform":[{"filter":"datum.k === 'b'"}],"mark":{"type":"rule","color":"#2a00ff","strokeWidth":4,"xOffset":{"expr":"datum.x === 0.5 ? 9 : 0"}},"encoding":{"x":{"field":"x","type":"quantitative","scale":{"domain":[-0.155,1.155],"nice":false,"zero":false},"axis":null},"y":{"field":"lo","type":"quantitative","scale":{"domain":[0.19075,0.47665],"nice":false,"zero":false},"axis":null},"y2":{"field":"hi"}}},
{"transform":[{"filter":"datum.k === 'b'"}],"mark":{"type":"tick","orient":"horizontal","color":"#2a00ff","thickness":3,"opacity":1,"size":{"expr":"datum.x === 0.5 ? 11 : 16"},"xOffset":{"expr":"datum.x === 0.5 ? 6 : 0"}},"encoding":{"x":{"field":"x","type":"quantitative","scale":{"domain":[-0.155,1.155],"nice":false,"zero":false},"axis":null},"y":{"field":"lo","type":"quantitative","scale":{"domain":[0.19075,0.47665],"nice":false,"zero":false},"axis":null}}},
{"transform":[{"filter":"datum.k === 'b'"}],"mark":{"type":"tick","orient":"horizontal","color":"#2a00ff","thickness":3,"opacity":1,"size":{"expr":"datum.x === 0.5 ? 11 : 16"},"xOffset":{"expr":"datum.x === 0.5 ? 6 : 0"}},"encoding":{"x":{"field":"x","type":"quantitative","scale":{"domain":[-0.155,1.155],"nice":false,"zero":false},"axis":null},"y":{"field":"hi","type":"quantitative","scale":{"domain":[0.19075,0.47665],"nice":false,"zero":false},"axis":null}}}
]},
{"width":342,"height":176,"transform":[{"filter":"datum.r === 'r7' && datum.f === 'K'"}],"resolve":{"axis":{"y":"independent"}},"layer":[
{"transform":[{"filter":"datum.k === 'c'"}],"mark":{"type":"line","color":"#000000","strokeWidth":2,"interpolate":"monotone"},"encoding":{"x":{"field":"x","type":"quantitative","scale":{"domain":[-0.155,1.155],"nice":false,"zero":false},"axis":null},"y":{"field":"y","type":"quantitative","scale":{"domain":[0.273125,21.905375],"nice":false,"zero":false},"axis":{"title":"Sakizimsilik (N)","values":[18.3,14.694625,11.08925,7.483875,3.8785],"labelExpr":"datum.value === 18.3 ? '18,3' : datum.value === 11.08925 ? '10,85891' : datum.value === 3.8785 ? '3,8785' : ''","labelColor":{"condition":{"test":"datum.value === 11.08925","value":"#ff0000"},"value":"#000000"}}}}},
{"mark":{"type":"rule","color":"#ff0000","strokeWidth":1,"strokeDash":[1,1],"opacity":0.75},"encoding":{"x":{"datum":0.5,"type":"quantitative","scale":{"domain":[-0.155,1.155],"nice":false,"zero":false},"axis":null}}},
{"mark":{"type":"rule","color":"#ff0000","strokeWidth":1,"strokeDash":[1,1],"opacity":0.75},"encoding":{"y":{"datum":10.85891,"type":"quantitative","scale":{"domain":[0.273125,21.905375],"nice":false,"zero":false},"axis":{"orient":"left","offset":351,"domainWidth":3,"domainColor":"#000000","ticks":false,"labels":false,"title":null,"grid":false}}}},
{"transform":[{"filter":"datum.k === 'b'"}],"mark":{"type":"rule","color":"#2a00ff","strokeWidth":4,"xOffset":{"expr":"datum.x === 0.5 ? 9 : 0"}},"encoding":{"x":{"field":"x","type":"quantitative","scale":{"domain":[-0.155,1.155],"nice":false,"zero":false},"axis":null},"y":{"field":"lo","type":"quantitative","scale":{"domain":[0.273125,21.905375],"nice":false,"zero":false},"axis":null},"y2":{"field":"hi"}}},
{"transform":[{"filter":"datum.k === 'b'"}],"mark":{"type":"tick","orient":"horizontal","color":"#2a00ff","thickness":3,"opacity":1,"size":{"expr":"datum.x === 0 ? 11 : 16"},"xOffset":{"expr":"datum.x === 0.5 ? 9 : (datum.x === 0 ? -3 : 0)"}},"encoding":{"x":{"field":"x","type":"quantitative","scale":{"domain":[-0.155,1.155],"nice":false,"zero":false},"axis":null},"y":{"field":"lo","type":"quantitative","scale":{"domain":[0.273125,21.905375],"nice":false,"zero":false},"axis":null}}},
{"transform":[{"filter":"datum.k === 'b'"}],"mark":{"type":"tick","orient":"horizontal","color":"#2a00ff","thickness":3,"opacity":1,"size":{"expr":"datum.x === 0 ? 11 : 16"},"xOffset":{"expr":"datum.x === 0.5 ? 9 : (datum.x === 0 ? -3 : 0)"}},"encoding":{"x":{"field":"x","type":"quantitative","scale":{"domain":[-0.155,1.155],"nice":false,"zero":false},"axis":null},"y":{"field":"hi","type":"quantitative","scale":{"domain":[0.273125,21.905375],"nice":false,"zero":false},"axis":null}}}
]},
{"width":342,"height":176,"transform":[{"filter":"datum.r === 'r7' && datum.f === 'L'"}],"layer":[
{"mark":{"type":"rule","color":"#ff0000","strokeWidth":1,"strokeDash":[1,1],"opacity":0.75},"encoding":{"x":{"datum":0.5,"type":"quantitative","scale":{"domain":[-0.155,1.155],"nice":false,"zero":false},"axis":null}}},
{"mark":{"type":"rule","color":"#ff0000","strokeWidth":1,"strokeDash":[1,1],"opacity":0.75},"encoding":{"y":{"datum":10.85891,"type":"quantitative","scale":{"domain":[0.273125,21.905375],"nice":false,"zero":false},"axis":null}}},
{"transform":[{"filter":"datum.k === 'c'"}],"mark":{"type":"line","color":"#000000","strokeWidth":2,"interpolate":"monotone"},"encoding":{"x":{"field":"x","type":"quantitative","scale":{"domain":[-0.155,1.155],"nice":false,"zero":false},"axis":null},"y":{"field":"y","type":"quantitative","scale":{"domain":[0.273125,21.905375],"nice":false,"zero":false},"axis":null}}},
{"transform":[{"filter":"datum.k === 'b'"}],"mark":{"type":"rule","color":"#2a00ff","strokeWidth":4,"xOffset":{"expr":"datum.x === 0.5 ? 9 : 0"}},"encoding":{"x":{"field":"x","type":"quantitative","scale":{"domain":[-0.155,1.155],"nice":false,"zero":false},"axis":null},"y":{"field":"lo","type":"quantitative","scale":{"domain":[0.273125,21.905375],"nice":false,"zero":false},"axis":null},"y2":{"field":"hi"}}},
{"transform":[{"filter":"datum.k === 'b'"}],"mark":{"type":"tick","orient":"horizontal","color":"#2a00ff","thickness":3,"opacity":1,"size":{"expr":"datum.x === 0.5 ? 11 : 16"},"xOffset":{"expr":"datum.x === 0.5 ? 6 : 0"}},"encoding":{"x":{"field":"x","type":"quantitative","scale":{"domain":[-0.155,1.155],"nice":false,"zero":false},"axis":null},"y":{"field":"lo","type":"quantitative","scale":{"domain":[0.273125,21.905375],"nice":false,"zero":false},"axis":null}}},
{"transform":[{"filter":"datum.k === 'b'"}],"mark":{"type":"tick","orient":"horizontal","color":"#2a00ff","thickness":3,"opacity":1,"size":{"expr":"datum.x === 0.5 ? 11 : 16"},"xOffset":{"expr":"datum.x === 0.5 ? 6 : 0"}},"encoding":{"x":{"field":"x","type":"quantitative","scale":{"domain":[-0.155,1.155],"nice":false,"zero":false},"axis":null},"y":{"field":"hi","type":"quantitative","scale":{"domain":[0.273125,21.905375],"nice":false,"zero":false},"axis":null}}}
]},
{"width":342,"height":176,"transform":[{"filter":"datum.r === 'r8' && datum.f === 'K'"}],"resolve":{"axis":{"y":"independent"}},"layer":[
{"transform":[{"filter":"datum.k === 'c'"}],"mark":{"type":"line","color":"#000000","strokeWidth":2,"interpolate":"monotone"},"encoding":{"x":{"field":"x","type":"quantitative","scale":{"domain":[-0.155,1.155],"nice":false,"zero":false},"axis":null},"y":{"field":"y","type":"quantitative","scale":{"domain":[-0.21325,14.89865],"nice":false,"zero":false},"axis":{"title":"Cignenebilirlik (N)","values":[12.38,9.86135,7.3427,4.82405,2.3054],"labelExpr":"datum.value === 12.38 ? '12,38' : datum.value === 7.3427 ? '7,104855' : datum.value === 2.3054 ? '2,3054' : ''","labelColor":{"condition":{"test":"datum.value === 7.3427","value":"#ff0000"},"value":"#000000"}}}}},
{"mark":{"type":"rule","color":"#ff0000","strokeWidth":1,"strokeDash":[1,1],"opacity":0.75},"encoding":{"x":{"datum":0.5,"type":"quantitative","scale":{"domain":[-0.155,1.155],"nice":false,"zero":false},"axis":null}}},
{"mark":{"type":"rule","color":"#ff0000","strokeWidth":1,"strokeDash":[1,1],"opacity":0.75},"encoding":{"y":{"datum":7.104855,"type":"quantitative","scale":{"domain":[-0.21325,14.89865],"nice":false,"zero":false},"axis":{"orient":"left","offset":351,"domainWidth":3,"domainColor":"#000000","ticks":false,"labels":false,"title":null,"grid":false}}}},
{"transform":[{"filter":"datum.k === 'b'"}],"mark":{"type":"rule","color":"#2a00ff","strokeWidth":4,"xOffset":{"expr":"datum.x === 0.5 ? 9 : 0"}},"encoding":{"x":{"field":"x","type":"quantitative","scale":{"domain":[-0.155,1.155],"nice":false,"zero":false},"axis":null},"y":{"field":"lo","type":"quantitative","scale":{"domain":[-0.21325,14.89865],"nice":false,"zero":false},"axis":null},"y2":{"field":"hi"}}},
{"transform":[{"filter":"datum.k === 'b'"}],"mark":{"type":"tick","orient":"horizontal","color":"#2a00ff","thickness":3,"opacity":1,"size":{"expr":"datum.x === 0 ? 11 : 16"},"xOffset":{"expr":"datum.x === 0.5 ? 9 : (datum.x === 0 ? -3 : 0)"}},"encoding":{"x":{"field":"x","type":"quantitative","scale":{"domain":[-0.155,1.155],"nice":false,"zero":false},"axis":null},"y":{"field":"lo","type":"quantitative","scale":{"domain":[-0.21325,14.89865],"nice":false,"zero":false},"axis":null}}},
{"transform":[{"filter":"datum.k === 'b'"}],"mark":{"type":"tick","orient":"horizontal","color":"#2a00ff","thickness":3,"opacity":1,"size":{"expr":"datum.x === 0 ? 11 : 16"},"xOffset":{"expr":"datum.x === 0.5 ? 9 : (datum.x === 0 ? -3 : 0)"}},"encoding":{"x":{"field":"x","type":"quantitative","scale":{"domain":[-0.155,1.155],"nice":false,"zero":false},"axis":null},"y":{"field":"hi","type":"quantitative","scale":{"domain":[-0.21325,14.89865],"nice":false,"zero":false},"axis":null}}}
]},
{"width":342,"height":176,"transform":[{"filter":"datum.r === 'r8' && datum.f === 'L'"}],"layer":[
{"mark":{"type":"rule","color":"#ff0000","strokeWidth":1,"strokeDash":[1,1],"opacity":0.75},"encoding":{"x":{"datum":0.5,"type":"quantitative","scale":{"domain":[-0.155,1.155],"nice":false,"zero":false},"axis":null}}},
{"mark":{"type":"rule","color":"#ff0000","strokeWidth":1,"strokeDash":[1,1],"opacity":0.75},"encoding":{"y":{"datum":7.104855,"type":"quantitative","scale":{"domain":[-0.21325,14.89865],"nice":false,"zero":false},"axis":null}}},
{"transform":[{"filter":"datum.k === 'c'"}],"mark":{"type":"line","color":"#000000","strokeWidth":2,"interpolate":"monotone"},"encoding":{"x":{"field":"x","type":"quantitative","scale":{"domain":[-0.155,1.155],"nice":false,"zero":false},"axis":null},"y":{"field":"y","type":"quantitative","scale":{"domain":[-0.21325,14.89865],"nice":false,"zero":false},"axis":null}}},
{"transform":[{"filter":"datum.k === 'b'"}],"mark":{"type":"rule","color":"#2a00ff","strokeWidth":4,"xOffset":{"expr":"datum.x === 0.5 ? 9 : 0"}},"encoding":{"x":{"field":"x","type":"quantitative","scale":{"domain":[-0.155,1.155],"nice":false,"zero":false},"axis":null},"y":{"field":"lo","type":"quantitative","scale":{"domain":[-0.21325,14.89865],"nice":false,"zero":false},"axis":null},"y2":{"field":"hi"}}},
{"transform":[{"filter":"datum.k === 'b'"}],"mark":{"type":"tick","orient":"horizontal","color":"#2a00ff","thickness":3,"opacity":1,"size":{"expr":"datum.x === 0.5 ? 11 : 16"},"xOffset":{"expr":"datum.x === 0.5 ? 6 : 0"}},"encoding":{"x":{"field":"x","type":"quantitative","scale":{"domain":[-0.155,1.155],"nice":false,"zero":false},"axis":null},"y":{"field":"lo","type":"quantitative","scale":{"domain":[-0.21325,14.89865],"nice":false,"zero":false},"axis":null}}},
{"transform":[{"filter":"datum.k === 'b'"}],"mark":{"type":"tick","orient":"horizontal","color":"#2a00ff","thickness":3,"opacity":1,"size":{"expr":"datum.x === 0.5 ? 11 : 16"},"xOffset":{"expr":"datum.x === 0.5 ? 6 : 0"}},"encoding":{"x":{"field":"x","type":"quantitative","scale":{"domain":[-0.155,1.155],"nice":false,"zero":false},"axis":null},"y":{"field":"hi","type":"quantitative","scale":{"domain":[-0.21325,14.89865],"nice":false,"zero":false},"axis":null}}}
]},
{"width":342,"height":176,"transform":[{"filter":"datum.r === 'r9' && datum.f === 'K'"}],"resolve":{"axis":{"x":"independent","y":"independent"}},"layer":[
{"transform":[{"filter":"datum.k === 'c'"}],"mark":{"type":"line","color":"#000000","strokeWidth":2,"interpolate":"monotone"},"encoding":{"x":{"field":"x","type":"quantitative","scale":{"domain":[-0.155,1.155],"nice":false,"zero":false},"axis":{"orient":"bottom","title":"Keciboynuzu","values":[0,1],"labelExpr":"datum.value === 0 ? '0' : '1'","labelAngle":-90,"labelAlign":"right","labelBaseline":"bottom","labelPadding":8,"labelFontSize":26}},"y":{"field":"y","type":"quantitative","scale":{"domain":[0.04175,0.15725],"nice":false,"zero":false},"axis":{"title":"Esneklik","values":[0.138,0.11875,0.0995,0.08025,0.061],"labelExpr":"datum.value === 0.138 ? '0,138' : datum.value === 0.0995 ? '0,103845' : datum.value === 0.061 ? '0,061' : ''","labelColor":{"condition":{"test":"datum.value === 0.0995","value":"#ff0000"},"value":"#000000"}}}}},
{"mark":{"type":"rule","color":"#ff0000","strokeWidth":1,"strokeDash":[1,1],"opacity":0.75},"encoding":{"x":{"datum":0.5,"type":"quantitative","scale":{"domain":[-0.155,1.155],"nice":false,"zero":false},"axis":{"orient":"bottom","title":null,"values":[0.5],"labelExpr":"'0,5'","labelColor":"#ff0000","labelAngle":0,"labelAlign":"center","labelBaseline":"top","labelPadding":20,"labelFontSize":26}}}},
{"mark":{"type":"rule","color":"#ff0000","strokeWidth":1,"strokeDash":[1,1],"opacity":0.75},"encoding":{"y":{"datum":0.103845,"type":"quantitative","scale":{"domain":[0.04175,0.15725],"nice":false,"zero":false},"axis":{"orient":"left","offset":351,"domainWidth":3,"domainColor":"#000000","ticks":false,"labels":false,"title":null,"grid":false}}}},
{"transform":[{"filter":"datum.k === 'b'"}],"mark":{"type":"rule","color":"#2a00ff","strokeWidth":4,"xOffset":{"expr":"datum.x === 0.5 ? 9 : 0"}},"encoding":{"x":{"field":"x","type":"quantitative","scale":{"domain":[-0.155,1.155],"nice":false,"zero":false},"axis":null},"y":{"field":"lo","type":"quantitative","scale":{"domain":[0.04175,0.15725],"nice":false,"zero":false},"axis":null},"y2":{"field":"hi"}}},
{"transform":[{"filter":"datum.k === 'b'"}],"mark":{"type":"tick","orient":"horizontal","color":"#2a00ff","thickness":3,"opacity":1,"size":{"expr":"datum.x === 0 ? 11 : 16"},"xOffset":{"expr":"datum.x === 0.5 ? 9 : (datum.x === 0 ? -3 : 0)"}},"encoding":{"x":{"field":"x","type":"quantitative","scale":{"domain":[-0.155,1.155],"nice":false,"zero":false},"axis":null},"y":{"field":"lo","type":"quantitative","scale":{"domain":[0.04175,0.15725],"nice":false,"zero":false},"axis":null}}},
{"transform":[{"filter":"datum.k === 'b'"}],"mark":{"type":"tick","orient":"horizontal","color":"#2a00ff","thickness":3,"opacity":1,"size":{"expr":"datum.x === 0 ? 11 : 16"},"xOffset":{"expr":"datum.x === 0.5 ? 9 : (datum.x === 0 ? -3 : 0)"}},"encoding":{"x":{"field":"x","type":"quantitative","scale":{"domain":[-0.155,1.155],"nice":false,"zero":false},"axis":null},"y":{"field":"hi","type":"quantitative","scale":{"domain":[0.04175,0.15725],"nice":false,"zero":false},"axis":null}}}
]},
{"width":342,"height":176,"transform":[{"filter":"datum.r === 'r9' && datum.f === 'L'"}],"resolve":{"axis":{"x":"independent"}},"layer":[
{"transform":[{"filter":"datum.k === 'c'"}],"mark":{"type":"line","color":"#000000","strokeWidth":2,"interpolate":"monotone"},"encoding":{"x":{"field":"x","type":"quantitative","scale":{"domain":[-0.155,1.155],"nice":false,"zero":false},"axis":{"orient":"bottom","title":"Lesitin","values":[0,1],"labelExpr":"datum.value === 0 ? '0' : '1'","labelAngle":-90,"labelAlign":"right","labelBaseline":"bottom","labelPadding":8,"labelFontSize":26}},"y":{"field":"y","type":"quantitative","scale":{"domain":[0.04175,0.15725],"nice":false,"zero":false},"axis":null}}},
{"mark":{"type":"rule","color":"#ff0000","strokeWidth":1,"strokeDash":[1,1],"opacity":0.75},"encoding":{"x":{"datum":0.5,"type":"quantitative","scale":{"domain":[-0.155,1.155],"nice":false,"zero":false},"axis":{"orient":"bottom","title":null,"values":[0.5],"labelExpr":"'0,5'","labelColor":"#ff0000","labelAngle":0,"labelAlign":"center","labelBaseline":"top","labelPadding":20,"labelFontSize":26}}}},
{"mark":{"type":"rule","color":"#ff0000","strokeWidth":1,"strokeDash":[1,1],"opacity":0.75},"encoding":{"y":{"datum":0.103845,"type":"quantitative","scale":{"domain":[0.04175,0.15725],"nice":false,"zero":false},"axis":null}}},
{"transform":[{"filter":"datum.k === 'b'"}],"mark":{"type":"rule","color":"#2a00ff","strokeWidth":4,"xOffset":{"expr":"datum.x === 0.5 ? 9 : 0"}},"encoding":{"x":{"field":"x","type":"quantitative","scale":{"domain":[-0.155,1.155],"nice":false,"zero":false},"axis":null},"y":{"field":"lo","type":"quantitative","scale":{"domain":[0.04175,0.15725],"nice":false,"zero":false},"axis":null},"y2":{"field":"hi"}}},
{"transform":[{"filter":"datum.k === 'b'"}],"mark":{"type":"tick","orient":"horizontal","color":"#2a00ff","thickness":3,"opacity":1,"size":{"expr":"datum.x === 0.5 ? 11 : 16"},"xOffset":{"expr":"datum.x === 0.5 ? 6 : 0"}},"encoding":{"x":{"field":"x","type":"quantitative","scale":{"domain":[-0.155,1.155],"nice":false,"zero":false},"axis":null},"y":{"field":"lo","type":"quantitative","scale":{"domain":[0.04175,0.15725],"nice":false,"zero":false},"axis":null}}},
{"transform":[{"filter":"datum.k === 'b'"}],"mark":{"type":"tick","orient":"horizontal","color":"#2a00ff","thickness":3,"opacity":1,"size":{"expr":"datum.x === 0.5 ? 11 : 16"},"xOffset":{"expr":"datum.x === 0.5 ? 6 : 0"}},"encoding":{"x":{"field":"x","type":"quantitative","scale":{"domain":[-0.155,1.155],"nice":false,"zero":false},"axis":null},"y":{"field":"hi","type":"quantitative","scale":{"domain":[0.04175,0.15725],"nice":false,"zero":false},"axis":null}}}
]}
],
"config":{
"view":{"stroke":"#000000","strokeWidth":3},
"axisY":{"domainColor":"#000000","domainWidth":5,"tickColor":"#000000","tickWidth":2,"tickSize":20,"tickCount":20,"labelFont":"DejaVu Sans","labelFontSize":23,"labelPadding":7,"labelOffset":-21,"labelBaseline":"middle","labelOverlap":false,"labelFlush":false,"labelBound":false,"titleFont":"Liberation Sans","titleFontSize":24,"titleFontWeight":"normal","titleColor":"#000000","titleX":-290,"titleY":82,"titleAngle":-90,"titleBaseline":"middle","titleAlign":"center","grid":false},
"axisX":{"domainColor":"#000000","domainWidth":3,"tickColor":"#000000","tickWidth":3,"tickSize":12,"tickCount":20,"labelFont":"DejaVu Sans","labelFontSize":24,"labelOverlap":false,"labelFlush":false,"labelBound":false,"titleFont":"DejaVu Sans","titleFontSize":28,"titleFontWeight":"normal","titleColor":"#000000","titleX":178,"titleY":94,"titleBaseline":"middle","titleAlign":"center","grid":false}
}
}
